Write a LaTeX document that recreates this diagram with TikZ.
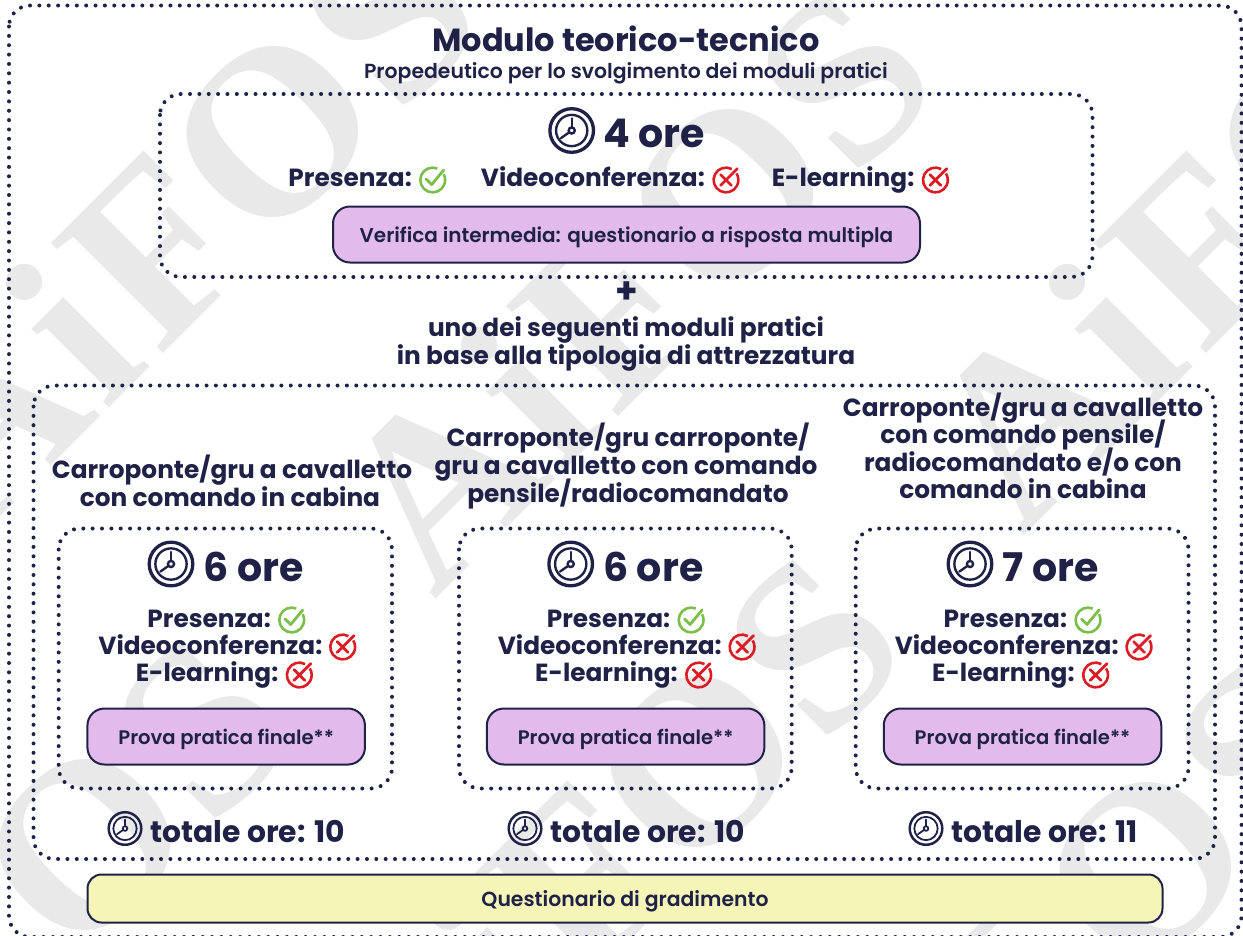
\documentclass[tikz,border=0pt]{standalone}
\usepackage{fontspec}
\setmainfont{Poppins}[BoldFont={* Bold}]
\newfontfamily\sbf{Poppins}[UprightFont={* SemiBold}]
\newfontfamily\wm{Liberation Serif}[UprightFont={* Bold}]
\definecolor{ink}{HTML}{1F2147}
\definecolor{lil}{HTML}{E2BBEC}
\definecolor{yel}{HTML}{F5F5B8}
\definecolor{wmc}{HTML}{E9E9E9}
\definecolor{okc}{HTML}{7ABF4A}
\definecolor{noc}{HTML}{DC1C24}
\tikzset{
 dotbox/.style={draw=ink,line width=4pt,line cap=round,dash pattern=on 0.01pt off 9.35pt,rounded corners=21pt},
 pill/.style={draw=ink,line width=2pt,rounded corners=17pt,fill=lil,text=ink,align=center,inner sep=0pt},
 txt/.style={text=ink,align=center,inner sep=0pt,anchor=base},
 big/.style={txt,font=\bfseries\fontsize{39.5}{39.5}\selectfont},
 lab/.style={txt,anchor=base east,font=\bfseries\fontsize{24.8}{24.8}\selectfont},
 head/.style={txt,font=\bfseries\fontsize{24.8}{27.5}\selectfont},
 tot/.style={txt,font=\bfseries\fontsize{29.8}{29.8}\selectfont},
 wmt/.style={text=wmc,font=\wm\fontsize{240}{240}\selectfont,rotate=45,inner sep=0pt,anchor=base},
}
\newcommand{\clockic}[3]{% x y r
 \draw[ink,line width=#3*0.14pt] (#1,#2) circle[radius=#3*0.92];
 \draw[ink,line width=#3*0.10pt] (#1,#2) circle[radius=#3*0.66];
 \draw[ink,line width=#3*0.10pt] (#1,#2) circle[radius=#3*0.13];
 \draw[ink,line width=#3*0.10pt,line cap=round] (#1,#2)++(0,-#3*0.13)--++(0,-#3*0.38);
 \draw[ink,line width=#3*0.10pt,line cap=round] (#1,#2)++(-#3*0.11,#3*0.08)--++(-#3*0.34,#3*0.24);
}
\newcommand{\okic}[2]{%
 \draw[okc,line width=2.6pt] (#1,#2)++(-68:12.4) arc[start angle=-68,delta angle=-320,radius=12.4];
 \draw[okc,line width=2.8pt,line cap=round,line join=round] (#1-6.5,#2-1) -- (#1-1,#2+4.5) -- (#1+11,#2-10);
}
\newcommand{\noic}[2]{%
 \draw[noc,line width=2.6pt] (#1,#2)++(-62:12.4) arc[start angle=-62,delta angle=-330,radius=12.4];
 \draw[noc,line width=2.8pt,line cap=round] (#1-5.5,#2-5.5) -- (#1+5.5,#2+5.5) (#1+11.5,#2-11.5) -- (#1-5.5,#2+5.5);
}
\begin{document}
\begin{tikzpicture}[x=1pt,y=-1pt]
\useasboundingbox (0,0) rectangle (1243,935);
\begin{scope}
\clip (0,0) rectangle (1243,935);
\foreach \ox/\oy/\nm in {273/132/a,728/195/b,1316/132/c,85/845/d,697/762/e,1146/868/f}{
 \node[wmt] (wm\nm) at (\ox-36.7,\oy+148.5) {A\kern5pt i\kern9pt F\kern0pt O\kern5pt S};
}
\end{scope}
\draw[dotbox] (9,5.5) rectangle (1241.5,937);
\draw[dotbox] (160,94) rectangle (1092.5,277);
\draw[dotbox] (33.5,385.5) rectangle (1215,859);
\draw[dotbox] (58.7,528.5) rectangle (392,788.5);
\draw[dotbox] (459,528.5) rectangle (791.7,788.5);
\draw[dotbox] (855.7,528.5) rectangle (1188.5,788.5);
\node[txt,font=\bfseries\fontsize{32}{32}\selectfont] (title) at (626,51) {Modulo teorico-tecnico};
\node[txt,font=\sbf\fontsize{20.4}{20.4}\selectfont] (sub) at (626,78.5) {Propedeutico per lo svolgimento dei moduli pratici};
\clockic{571.7}{130.5}{23.7}
\node[big,anchor=base west] (h1) at (603.5,147.5) {4 ore};
\node[lab] (p1) at (412,186.5) {Presenza:};
\okic{432.7}{180}
\node[lab] (v1) at (705,186.5) {Videoconferenza:};
\noic{726}{180}
\node[lab] (e1) at (914.5,186.5) {E-learning:};
\noic{935.4}{180}
\node[pill,minimum width=587pt,minimum height=56pt,text height=16pt,text depth=0pt] (v) at (626.5,234.5) {\sbf\fontsize{20}{20}\selectfont Verifica intermedia: questionario a risposta multipla};
\node[txt,font=\bfseries\fontsize{36}{36}\selectfont,anchor=center] (plus) at (626.5,292.5) {+};
\node[head,anchor=base] (uno1) at (626,336) {uno dei seguenti moduli pratici};
\node[head,anchor=base] (uno2) at (626,364) {in base alla tipologia di attrezzatura};
\node[head] (c1a) at (232,478) {Carroponte/gru a cavalletto};
\node[head] (c1b) at (230,506) {con comando in cabina};
\node[head] (c2a) at (628,446.5) {Carroponte/gru carroponte/};
\node[head] (c2b) at (626,474) {gru a cavalletto con comando};
\node[head] (c2c) at (628,502) {pensile/radiocomandato};
\node[head] (c3a) at (1023,416) {Carroponte/gru a cavalletto};
\node[head] (c3b) at (1023,443.5) {con comando pensile/};
\node[head] (c3c) at (1023,471) {radiocomandato e/o con};
\node[head] (c3d) at (1023,498.5) {comando in cabina};
\foreach \ox/\cx/\sx/\hh/\tt/\n in {0/171/125/6/10/a,399.4/570.7/525/6/10/b,796.3/970/926/7/11/c}{
 \clockic{\cx}{564}{23.7}
 \node[big,anchor=base west] (h\n) at (\cx+32.5,581) {\hh\ ore};
 \begin{scope}[shift={(\ox,0)}]
 \node[lab] (p\n) at (271,627) {Presenza:};
 \okic{291.7}{620}
 \node[lab] (v\n) at (322.5,654) {Videoconferenza:};
 \noic{342.7}{647}
 \node[lab] (e\n) at (278.5,681.5) {E-learning:};
 \noic{299.3}{675}
 \node[pill,minimum width=277.5pt,minimum height=56pt,text height=15pt,text depth=0pt] (f\n) at (226.2,736.5) {\sbf\fontsize{19.6}{19.6}\selectfont Prova pratica finale**};
 \end{scope}
 \clockic{\sx}{828.5}{17.7}
 \node[tot,anchor=base west] (t\n) at (\sx+25,842) {totale ore: \tt};
}
\node[pill,fill=yel,minimum width=1075pt,minimum height=48pt,rounded corners=14pt,text height=16.5pt,text depth=0pt] (q) at (625,898.5) {\sbf\fontsize{20.4}{20.4}\selectfont Questionario di gradimento};
\end{tikzpicture}
\end{document}
